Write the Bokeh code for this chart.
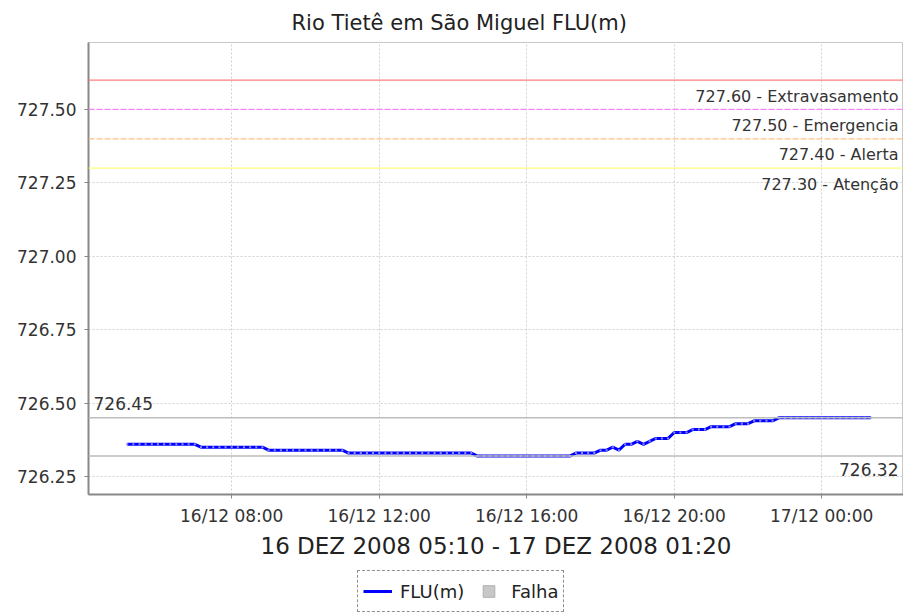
from datetime import datetime
import pandas as pd
from bokeh.plotting import figure
from bokeh.layouts import column
from bokeh.models import (Range1d, Span, Label, Legend, LegendItem, FixedTicker,
                          NumeralTickFormatter, ColumnDataSource)
from bokeh.embed import file_html
from bokeh.resources import INLINE

# ---------------- data ----------------
title_text = "Rio Tietê em São Miguel FLU(m)"
axis_label = "16 DEZ 2008 05:10 - 17 DEZ 2008 01:20"
series_start = datetime(2008, 12, 16, 5, 10)
flu_levels = [
    726.36, 726.36, 726.36, 726.36, 726.36, 726.36, 726.36, 726.36, 726.36, 726.36, 726.36, 726.36,
    726.35, 726.35, 726.35, 726.35, 726.35, 726.35, 726.35, 726.35, 726.35, 726.35, 726.35,
    726.34, 726.34, 726.34, 726.34, 726.34, 726.34, 726.34, 726.34, 726.34, 726.34, 726.34, 726.34, 726.34,
    726.33, 726.33, 726.33, 726.33, 726.33, 726.33, 726.33, 726.33, 726.33, 726.33, 726.33,
    726.33, 726.33, 726.33, 726.33, 726.33, 726.33, 726.33, 726.33, 726.33, 726.33,
    726.32, 726.32, 726.32, 726.32, 726.32, 726.32, 726.32, 726.32,
    726.32, 726.32, 726.32, 726.32, 726.32, 726.32, 726.32, 726.32,
    726.33, 726.33, 726.33, 726.33,
    726.34, 726.34, 726.35, 726.34,
    726.36, 726.36, 726.37, 726.36,
    726.37,
    726.38, 726.38, 726.38,
    726.40, 726.40, 726.40,
    726.41, 726.41, 726.41,
    726.42, 726.42, 726.42, 726.42,
    726.43, 726.43, 726.43,
    726.44, 726.44, 726.44, 726.44,
    726.45, 726.45, 726.45, 726.45, 726.45, 726.45, 726.45, 726.45,
    726.45, 726.45, 726.45, 726.45, 726.45, 726.45, 726.45, 726.45,
]
flu_times = pd.date_range(series_start, periods=len(flu_levels), freq="10min")

threshold_values = [727.60, 727.50, 727.40, 727.30]
threshold_names = ["Extravasamento", "Emergencia", "Alerta", "Atenção"]
threshold_colors = ["#ff8080", "#ff80ff", "#ffc080", "#ffff80"]
threshold_dashes = ["solid", "6 2", "6 2", "solid"]

max_value = 726.45
min_value = 726.32

y_ticks = [726.25, 726.50, 726.75, 727.00, 727.25, 727.50]
x_tick_times = [datetime(2008, 12, 16, 8), datetime(2008, 12, 16, 12), datetime(2008, 12, 16, 16),
                datetime(2008, 12, 16, 20), datetime(2008, 12, 17, 0)]
x_tick_labels = ["16/12 08:00", "16/12 12:00", "16/12 16:00", "16/12 20:00", "17/12 00:00"]

legend_labels = ["FLU(m)", "Falha"]

# ---------------- helpers ----------------
def ms(dt):
    return (dt - datetime(1970, 1, 1)).total_seconds() * 1000.0

x_start = ms(datetime(2008, 12, 16, 4, 7))
x_end = ms(datetime(2008, 12, 17, 2, 13))

FONT = "DejaVu Sans"
TXT = "#333333"
W = 903
MAIN_H = 570
LEG_H = 44

p = figure(width=W, height=MAIN_H, x_axis_type="datetime",
           x_range=Range1d(x_start, x_end), y_range=Range1d(726.189, 727.728),
           output_backend="svg", toolbar_location=None,
           min_border_left=88, min_border_right=0, min_border_top=42, min_border_bottom=76)

p.title.text = title_text
p.title.align = "left"
p.title.offset = 203
p.title.text_font = FONT
p.title.text_font_size = "21px"
p.title.text_font_style = "normal"
p.title.text_color = "#222222"
p.title.standoff = 16

p.background_fill_color = "white"
p.border_fill_color = "white"
p.outline_line_color = "#c8c8c8"
p.outline_line_width = 1

for g in (p.xgrid, p.ygrid):
    g.grid_line_color = "#d0d0d0"
    g.grid_line_dash = "2 2"
    g.grid_line_width = 1

# axes
p.yaxis.ticker = FixedTicker(ticks=y_ticks)
p.yaxis.formatter = NumeralTickFormatter(format="0.00")
p.xaxis.ticker = FixedTicker(ticks=[ms(t) for t in x_tick_times])
p.xaxis.major_label_overrides = {ms(t): lab for t, lab in zip(x_tick_times, x_tick_labels)}
p.xaxis.axis_label = axis_label
for ax in (p.xaxis, p.yaxis):
    ax.axis_line_color = "#888888"
    ax.axis_line_width = 2
    ax.major_tick_line_color = "#888888"
    ax.major_tick_in = 0
    ax.major_tick_out = 4
    ax.minor_tick_line_color = None
    ax.major_label_text_font = FONT
    ax.major_label_text_color = TXT
p.yaxis.major_label_text_font_size = "17px"
p.yaxis.major_label_standoff = 8
p.xaxis.major_label_text_font_size = "17px"
p.xaxis.axis_label_text_font = FONT
p.xaxis.axis_label_text_font_size = "23px"
p.xaxis.axis_label_text_font_style = "normal"
p.xaxis.axis_label_text_color = "#222222"
p.xaxis.axis_label_standoff = 4
p.xaxis.major_label_standoff = 7

# threshold lines and labels
for v, name, c, d in zip(threshold_values, threshold_names, threshold_colors, threshold_dashes):
    p.add_layout(Span(location=v, dimension="width", line_color=c, line_width=1.3, line_dash=d))
    p.add_layout(Label(x=x_end, y=v, x_offset=-5, y_offset=-16, text=f"{v:.2f} - {name}",
                       text_align="right", text_baseline="middle", text_font=FONT,
                       text_font_size="16px", text_color=TXT))

# max / min lines
for v in (max_value, min_value):
    p.add_layout(Span(location=v, dimension="width", line_color="#bdbdbd", line_width=1.5))
p.add_layout(Label(x=x_start, y=max_value, x_offset=5, y_offset=8, text=f"{max_value:.2f}",
                   text_align="left", text_baseline="bottom", text_font=FONT,
                   text_font_size="17px", text_color=TXT))
p.add_layout(Label(x=x_end, y=min_value, x_offset=-5, y_offset=-7, text=f"{min_value:.2f}",
                   text_align="right", text_baseline="top", text_font=FONT,
                   text_font_size="17px", text_color=TXT))

# series
src = ColumnDataSource(dict(t=flu_times, v=flu_levels))
p.line("t", "v", source=src, line_color="#0000ff", line_width=3)
p.scatter("t", "v", source=src, marker="square", size=2, fill_color="#8c8cff", line_color=None)

# ---------------- legend strip ----------------
# (legend proxies reuse the series source; the strip's ranges keep them out of view)
lg = figure(width=W, height=LEG_H, x_range=Range1d(0, 1), y_range=Range1d(0, 1),
            x_axis_location=None, y_axis_location=None,
            output_backend="svg", toolbar_location=None, min_border=0)
lg.grid.visible = False
lg.outline_line_color = None
lg.background_fill_color = "white"
lg.border_fill_color = "white"
leg_line = lg.line("t", "v", source=src, line_color="#0000ff", line_width=3)
leg_falha = lg.scatter("t", "v", source=src, marker="square", size=12,
                       fill_color="#c8c8c8", line_color="#b0b0b0")
legend = Legend(items=[LegendItem(label=legend_labels[0], renderers=[leg_line]),
                       LegendItem(label=legend_labels[1], renderers=[leg_falha])],
                orientation="horizontal", location=(357 - 88, 2),
                border_line_color="#222222", border_line_dash="3 2", border_line_width=1,
                background_fill_color="white",
                label_text_font=FONT, label_text_font_size="18px", label_text_color="#222222",
                glyph_width=29, glyph_height=30, label_standoff=8, spacing=10,
                padding=5, margin=0)
lg.add_layout(legend, "center")

open("out.html", "w").write(file_html(column(p, lg, spacing=0), INLINE))
